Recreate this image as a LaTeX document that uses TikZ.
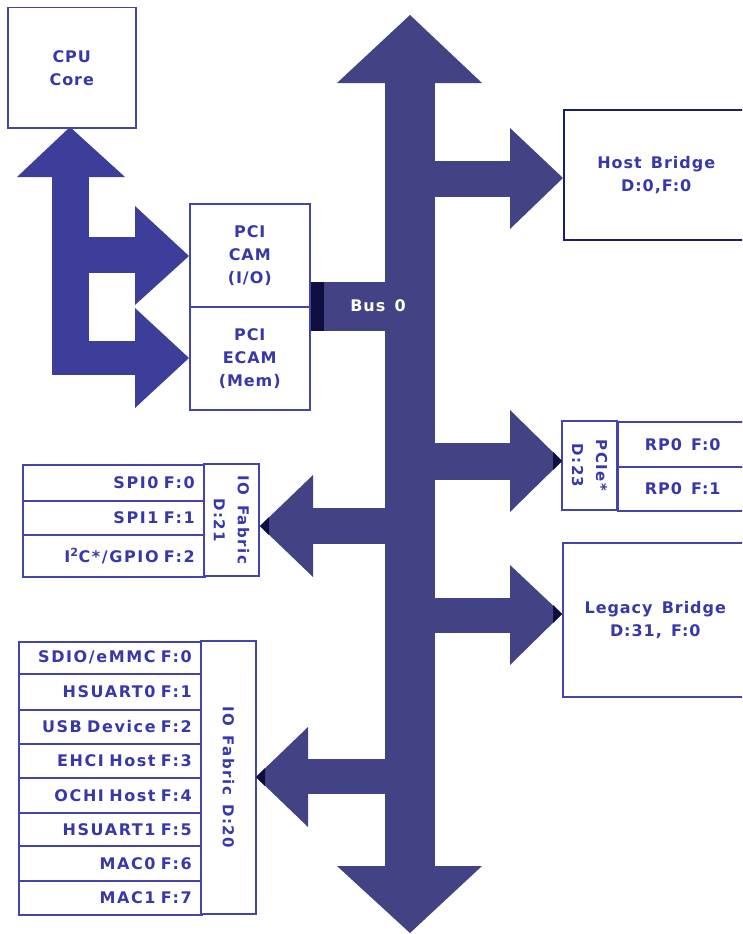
\documentclass[tikz,border=0pt]{standalone}
\usepackage{fontspec}
\setmainfont{DejaVu Sans}
\newfontfamily\hf[LetterSpace=6,WordSpace=1.4]{DejaVu Sans}
\newfontfamily\lf[LetterSpace=10,WordSpace=1.7]{DejaVu Sans}
\newfontfamily\vf[LetterSpace=10,WordSpace=1.4]{DejaVu Sans}
\definecolor{busfill}{RGB}{66,66,133}
\definecolor{cpufill}{RGB}{61,61,154}
\definecolor{darktip}{RGB}{14,14,64}
\definecolor{bord}{RGB}{68,68,172}
\definecolor{hbord}{RGB}{30,30,100}
\definecolor{txt}{RGB}{56,56,170}
\begin{document}
\begin{tikzpicture}[x=1pt,y=-1pt,
  box/.style={draw=bord, line width=1.5pt, fill=white, inner sep=0pt, align=center, text=txt,
    font=\hf\bfseries\fontsize{16}{23}\selectfont},
  vbox/.style={box, rotate=-90, font=\vf\bfseries\fontsize{15}{24}\selectfont},
  item/.style={box, align=right, inner xsep=10pt, anchor=north west,
    font=\lf\bfseries\fontsize{16}{23}\selectfont},
  bus/.style={fill=busfill},
  cpuarrow/.style={fill=cpufill},
  tipmark/.style={fill=darktip}
]
\useasboundingbox (0,0) rectangle (742,934);
\clip (0,0) rectangle (742,934);

% ---- main bus ----
\fill[bus] (385,83) rectangle (435,866);
\fill[bus] (337,83) -- (410,15) -- (482,83) -- cycle;
\fill[bus] (337,866) -- (410,933) -- (482,866) -- cycle;
% host bridge branch
\fill[bus] (435,161) rectangle (510,197);
\fill[bus] (510,128) -- (563,178) -- (510,229) -- cycle;
% PCIe branch
\fill[bus] (435,443) rectangle (510,480);
\fill[bus] (510,410) -- (562,461) -- (510,512) -- cycle;
% legacy branch
\fill[bus] (435,598) rectangle (510,633);
\fill[bus] (510,565) -- (562,614) -- (510,665) -- cycle;
% IO fabric D:21 branch
\fill[bus] (313,508) rectangle (385,544);
\fill[bus] (313,475) -- (260,526) -- (313,577) -- cycle;
% IO fabric D:20 branch
\fill[bus] (308,759) rectangle (385,794);
\fill[bus] (308,727) -- (256,777) -- (308,827) -- cycle;
% Bus 0 bar
\fill[bus] (309,282) rectangle (386,331);
\fill[darktip] (309,282) rectangle (324,331);

% ---- CPU arrows ----
\fill[cpuarrow] (17,177) -- (70,127) -- (125,177) -- cycle;
\fill[cpuarrow] (52,176) rectangle (89,375);
\fill[cpuarrow] (88,237) rectangle (135,273);
\fill[cpuarrow] (135,206) -- (189,256) -- (135,305) -- cycle;
\fill[cpuarrow] (88,341) rectangle (135,375);
\fill[cpuarrow] (135,308) -- (189,358) -- (135,408) -- cycle;

% ---- boxes ----
\node[box, anchor=north west, minimum width=128, minimum height=120] (cpu) at (7,7) {CPU\\Core};
\node[box, anchor=north west, minimum width=120, minimum height=103] (cam) at (189,203) {PCI\\CAM\\(I/O)};
\node[box, anchor=north west, minimum width=120, minimum height=103] (ecam) at (189,306) {PCI\\ECAM\\(Mem)};
\node[text=white, font=\hf\bfseries\fontsize{16}{23}\selectfont] (bus0) at (378,306) {Bus 0};

\node[box, draw=hbord, anchor=north west, minimum width=185, minimum height=130] (host) at (563,109) {Host Bridge\\D:0,F:0};

\node[vbox, minimum width=89, minimum height=55] (pcie) at (589.5,465.5) {PCIe*\\D:23};
\node[box, anchor=north west, minimum width=130, minimum height=45] (rp0) at (617,421) {RP0 F:0};
\node[box, anchor=north west, minimum width=130, minimum height=44] (rp1) at (617,466) {RP0 F:1};

\node[box, anchor=north west, minimum width=185, minimum height=154] (legacy) at (562,542) {Legacy Bridge\\D:31, F:0};

% IO Fabric D:21
\node[item, text width=162, minimum height=36] (spi0) at (22,464) {SPI0 F:0};
\node[item, text width=162, minimum height=34] (spi1) at (22,500) {SPI1 F:1};
\node[item, text width=162, minimum height=42] (i2c) at (22,534) {I\textsuperscript{2}C*/GPIO F:2};
\node[vbox, minimum width=112, minimum height=55] (iof21) at (231.5,520) {IO Fabric\\D:21};

% IO Fabric D:20
\node[item, text width=163, minimum height=32] (sdio) at (18,641) {SDIO/eMMC F:0};
\node[item, text width=163, minimum height=36] (hsu0) at (18,673) {HSUART0 F:1};
\node[item, text width=163, minimum height=34] (usb) at (18,709) {USB Device F:2};
\node[item, text width=163, minimum height=34] (ehci) at (18,743) {EHCI Host F:3};
\node[item, text width=163, minimum height=35] (ochi) at (18,777) {OCHI Host F:4};
\node[item, text width=163, minimum height=33] (hsu1) at (18,812) {HSUART1 F:5};
\node[item, text width=163, minimum height=35] (mac0) at (18,845) {MAC0 F:6};
\node[item, text width=163, minimum height=34] (mac1) at (18,880) {MAC1 F:7};
\node[vbox, minimum width=273, minimum height=55] (iof20) at (228.5,777.5) {IO Fabric D:20};

% ---- dark tip marks ----
\fill[tipmark] (553,452) -- (562,461) -- (553,470) -- cycle;
\fill[tipmark] (553,605) -- (562,614) -- (553,623) -- cycle;
\fill[tipmark] (269,517) -- (260,526) -- (269,535) -- cycle;
\fill[tipmark] (265,768) -- (256,777) -- (265,786) -- cycle;
\end{tikzpicture}
\end{document}
